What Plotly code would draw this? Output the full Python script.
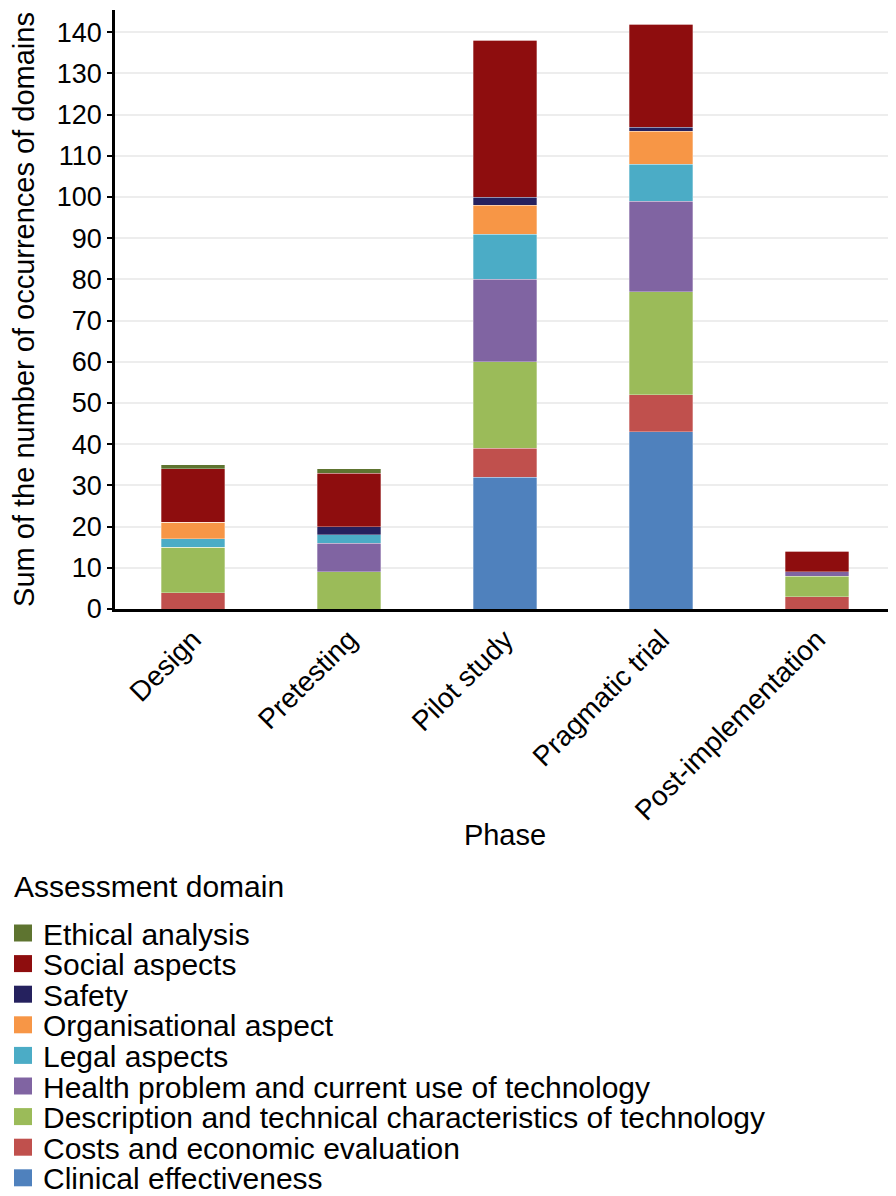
import plotly.graph_objects as go

phases = ["Design", "Pretesting", "Pilot study", "Pragmatic trial", "Post-implementation"]

domains = [
    "Clinical effectiveness",
    "Costs and economic evaluation",
    "Description and technical characteristics of technology",
    "Health problem and current use of technology",
    "Legal aspects",
    "Organisational aspect",
    "Safety",
    "Social aspects",
    "Ethical analysis",
]

clinical_effectiveness = [0, 0, 32, 43, 0]
costs_economic = [4, 0, 7, 9, 3]
description_technical = [11, 9, 21, 25, 5]
health_problem = [0, 7, 20, 22, 1]
legal_aspects = [2, 2, 11, 9, 0]
organisational_aspect = [4, 0, 7, 8, 0]
safety = [0, 2, 2, 1, 0]
social_aspects = [13, 13, 38, 25, 5]
ethical_analysis = [1, 1, 0, 0, 0]

series = [
    clinical_effectiveness,
    costs_economic,
    description_technical,
    health_problem,
    legal_aspects,
    organisational_aspect,
    safety,
    social_aspects,
    ethical_analysis,
]

colors = ["#4F81BD", "#C0504D", "#9BBB59", "#8064A2", "#4BACC6",
          "#F79646", "#25215E", "#8E0D0E", "#5E7430"]

y_ticks = list(range(0, 141, 10))

legend_title = "Assessment domain"

# ---- layout constants ----
# The page body has an 8px margin, so the figure is made 8px smaller
# and all page positions below are converted into figure coordinates.
OFF = 8
W, H = 896 - OFF, 1196 - OFF
PLOT_L, PLOT_R, PLOT_T, PLOT_B = 115, 895, 10, 609   # page pixels
ML = PLOT_L - OFF
MR = W - (PLOT_R - OFF)
MT = PLOT_T - OFF
MB = H - (PLOT_B - OFF)
PW = W - ML - MR
PH = H - MT - MB


def px(x_page):
    return (x_page - OFF - ML) / PW


def py(y_page):
    return (H - MB - (y_page - OFF)) / PH


font_family = "Liberation Sans, Arial, sans-serif"

fig = go.Figure()
for name, vals, col in zip(domains, series, colors):
    fig.add_trace(go.Bar(
        x=phases, y=vals, name=name, showlegend=False,
        marker=dict(color=col, line=dict(width=0.6, color="rgba(255,255,255,0.5)")),
    ))

# Legend drawn below the chart (Excel-style, top entry = top of stack)
row_first = 933.0
row_step = 30.6
annotations = [dict(
    text=legend_title, xref="paper", yref="paper",
    x=px(12), y=py(886), xanchor="left", yanchor="middle",
    showarrow=False, font=dict(size=30, family=font_family, color="black"),
)]
shapes = []
for i, (name, col) in enumerate(zip(reversed(domains), reversed(colors))):
    cy = row_first + i * row_step
    shapes.append(dict(
        type="rect", xref="paper", yref="paper",
        x0=px(14), x1=px(32), y0=py(cy + 8.5), y1=py(cy - 8.5),
        fillcolor=col, line=dict(width=0),
    ))
    annotations.append(dict(
        text=name, xref="paper", yref="paper",
        x=px(41), y=py(cy + 1), xanchor="left", yanchor="middle",
        showarrow=False, font=dict(size=30, family=font_family, color="black"),
    ))

fig.update_layout(
    barmode="stack",
    bargap=0.596,
    width=W,
    height=H,
    margin=dict(l=ML, r=MR, t=MT, b=MB, autoexpand=False),
    paper_bgcolor="white",
    plot_bgcolor="white",
    font=dict(family=font_family, size=24, color="black"),
    showlegend=False,
    annotations=annotations,
    shapes=shapes,
    xaxis=dict(
        title=dict(text="Phase", font=dict(size=29), standoff=0),
        tickangle=-45,
        showline=True, linecolor="black", linewidth=3,
        ticks="",
        showgrid=False,
        tickfont=dict(size=28),
        automargin=False,
    ),
    yaxis=dict(
        title=dict(text="Sum of the number of occurrences of domains", font=dict(size=29), standoff=14),
        range=[0, 145.4],
        tickvals=y_ticks,
        ticksuffix="\u00a0\u00a0\u00a0",
        showline=True, linecolor="black", linewidth=2.5,
        ticks="outside", ticklen=5, tickcolor="black", tickwidth=2,
        showgrid=True, gridcolor="#EDEDED", gridwidth=2,
        tickfont=dict(size=27),
        zeroline=False,
        automargin=False,
    ),
)

fig.write_html("out.html")
